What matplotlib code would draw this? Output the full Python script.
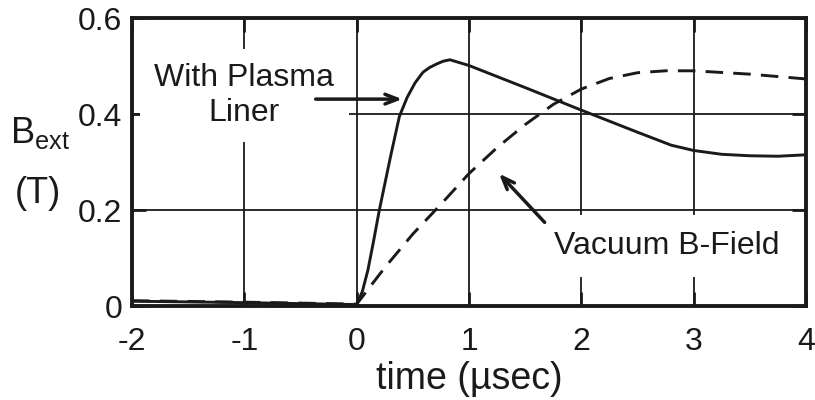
# B_ext vs time: plasma liner vs vacuum field
import matplotlib
matplotlib.use('Agg')
import matplotlib.pyplot as plt

plt.rcParams['font.family'] = ['Liberation Sans', 'DejaVu Sans']
plt.rcParams['axes.unicode_minus'] = False

# Z plazmowym linerem (linia ciągła)
t_liner = [-2.0, -1.0, 0.0, 0.05, 0.1, 0.15, 0.2, 0.3, 0.38, 0.45, 0.52, 0.59, 0.65,
           0.71, 0.77, 0.83, 1.0, 1.5, 2.0, 2.5, 2.8, 3.0, 3.25, 3.5, 3.75, 4.0]
b_liner = [0.010, 0.007, 0.003, 0.03, 0.075, 0.135, 0.198, 0.31, 0.395, 0.435, 0.465,
           0.487, 0.497, 0.504, 0.510, 0.513, 0.501, 0.455, 0.408, 0.362, 0.335, 0.324,
           0.316, 0.313, 0.312, 0.315]

# Próżniowe pole B (linia przerywana)
t_vac = [-2.0, -1.0, 0.0, 0.25, 0.5, 0.75, 1.0, 1.25, 1.5, 1.75, 2.0, 2.25, 2.5,
         2.75, 3.0, 3.5, 4.0]
b_vac = [0.011, 0.008, 0.004, 0.08, 0.15, 0.212, 0.276, 0.33, 0.378, 0.42, 0.452,
         0.474, 0.486, 0.490, 0.490, 0.483, 0.473]

xticks = [-2, -1, 0, 1, 2, 3, 4]
yticks = [0, 0.2, 0.4, 0.6]
yticklabels = ['0', '0.2', '0.4', '0.6']

fig = plt.figure(figsize=(8.15, 4.0), dpi=100)
ax = fig.add_axes([0.162, 0.235, 0.827, 0.72])

ax.plot(t_liner, b_liner, color='#1a1a1a', lw=2.1, zorder=3)
ax.plot(t_vac, b_vac, color='#1a1a1a', lw=2.1, ls=(0, (6, 3.5)), zorder=3)

ax.set_xlim(-2, 4)
ax.set_ylim(0, 0.6)
ax.set_xticks(xticks)
ax.set_yticks(yticks)
ax.set_yticklabels(yticklabels)
ax.grid(True, color='#1a1a1a', lw=1.3)
ax.set_axisbelow(True)
for s in ax.spines.values():
    s.set_linewidth(2.8)
    s.set_color('#1a1a1a')
ax.tick_params(direction='in', length=10, width=2, top=True, right=True,
               labelsize=23, colors='#1a1a1a')
ax.tick_params(axis='x', pad=15)
ax.tick_params(axis='y', pad=7)

ax.set_xlabel('time (µsec)', fontsize=27, color='#1a1a1a', labelpad=3)

# opis osi Y
fig.text(0.049, 0.643, r'B$_{\mathregular{ext}}$', fontsize=26, ha='center',
         va='baseline', color='#1a1a1a')
fig.text(0.047, 0.493, '(T)', fontsize=26, ha='center', va='baseline', color='#1a1a1a')

# adnotacje ze strzałkami
ax.text(-1.0, 0.438, 'With Plasma\nLiner', fontsize=23, ha='center', va='center',
        color='#1a1a1a', linespacing=1.2, zorder=2,
        bbox=dict(boxstyle='square,pad=0.45', fc='white', ec='none'))
ax.annotate('', xy=(0.43, 0.431), xytext=(-0.39, 0.431),
            arrowprops=dict(arrowstyle='->,head_length=0.9,head_width=0.35',
                            color='#1a1a1a', lw=2.5), zorder=4)

ax.text(2.76, 0.125, 'Vacuum B-Field', fontsize=23, ha='center', va='center',
        color='#1a1a1a', zorder=2,
        bbox=dict(boxstyle='square,pad=0.5', fc='white', ec='none'))
ax.annotate('', xy=(1.25, 0.28), xytext=(1.69, 0.17),
            arrowprops=dict(arrowstyle='->,head_length=0.9,head_width=0.35',
                            color='#1a1a1a', lw=2.5), zorder=4)

fig.savefig('out.png', dpi=100)
